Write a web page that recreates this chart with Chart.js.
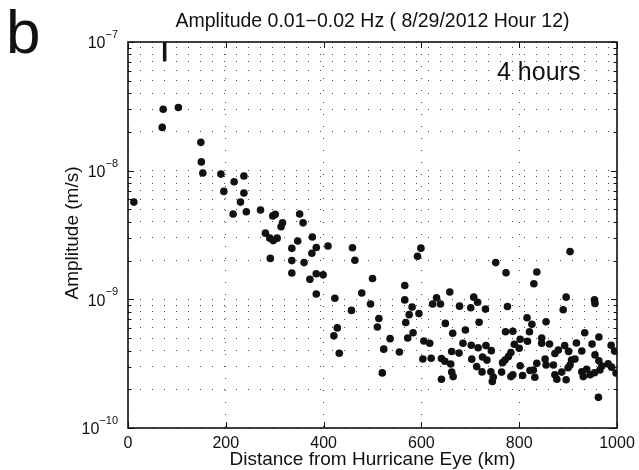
<!DOCTYPE html>
<html>
<head>
<meta charset="utf-8">
<script src="https://cdn.jsdelivr.net/npm/chart.js@4.4.0/dist/chart.umd.min.js"></script>
<style>
    html, body { margin: 0; padding: 0; background: #fff; }
    #wrap { width: 639px; height: 470px; }
</style>
</head>
<body>
<div id="wrap"><canvas id="amplitudeChart" width="639" height="470"></canvas></div>
<script>
// 허리케인 눈으로부터의 거리 (km)
const distanceKm = [
    12, 72, 103, 70, 149, 150, 153, 190, 196, 217,
    237, 237, 230, 215, 242, 271, 296, 301, 316, 313,
    351, 358, 281, 290, 297, 305, 347, 335, 377, 376,
    385, 291, 335, 360, 335, 409, 459, 464, 385, 399,
    372, 385, 423, 500, 478, 496, 457, 428, 421, 432,
    566, 599, 592, 566, 581, 575, 595, 568, 513, 510,
    583, 572, 536, 523, 555, 520, 605, 617, 603, 620,
    631, 623, 639, 658, 649, 664, 641, 648, 660, 662,
    677, 662, 665, 641, 678, 685, 690, 701, 707, 715,
    731, 718, 752, 773, 776, 702, 716, 732, 743, 703,
    725, 734, 713, 724, 742, 745, 747, 764, 772, 787,
    783, 778, 771, 766, 790, 800, 802, 783, 787, 836,
    830, 904, 896, 890, 954, 955, 855, 816, 826, 821,
    934, 963, 846, 817, 846, 862, 917, 949, 988, 995,
    893, 880, 873, 901, 928, 955, 963, 836, 829, 832,
    853, 855, 870, 802, 807, 822, 907, 914, 904, 900,
    873, 877, 887, 896, 928, 931, 938, 945, 965, 969,
    982, 989, 998, 962, 954
];

// 진폭 (m/s)
const amplitude = [
    5.7e-9, 3.0e-8, 3.1e-8, 2.17e-8, 1.66e-8, 1.17e-8, 9.6e-9, 9.4e-9, 6.9e-9, 8.2e-9,
    9.1e-9, 6.7e-9, 5.7e-9, 4.6e-9, 4.8e-9, 4.95e-9, 4.45e-9, 4.57e-9, 3.94e-9, 3.67e-9,
    4.61e-9, 3.93e-9, 3.27e-9, 2.99e-9, 2.86e-9, 2.99e-9, 2.84e-9, 2.49e-9, 3.05e-9, 2.28e-9,
    2.53e-9, 2.08e-9, 2.0e-9, 1.93e-9, 1.6e-9, 2.6e-9, 2.52e-9, 2.01e-9, 1.58e-9, 1.55e-9,
    1.43e-9, 1.1e-9, 1.02e-9, 1.45e-9, 1.12e-9, 9.2e-10, 8.2e-10, 6.0e-10, 5.2e-10, 3.81e-10,
    1.28e-9, 2.5e-9, 2.16e-9, 9.9e-10, 8.7e-10, 7.6e-10, 7.75e-10, 6.6e-10, 7.1e-10, 6.1e-10,
    5.5e-10, 5.0e-10, 4.95e-10, 4.1e-10, 3.9e-10, 2.68e-10, 4.75e-10, 4.56e-10, 3.44e-10, 3.48e-10,
    1.03e-9, 9.2e-10, 9.2e-10, 1.14e-9, 6.5e-10, 5.45e-10, 3.47e-10, 3.3e-10, 3.14e-10, 3.93e-10,
    3.82e-10, 2.72e-10, 2.51e-10, 2.39e-10, 8.85e-10, 4.56e-10, 5.78e-10, 8.6e-10, 1.04e-9, 9.5e-10,
    8.4e-10, 6.64e-10, 1.93e-9, 1.61e-9, 8.8e-10, 4.4e-10, 4.2e-10, 4.37e-10, 3.99e-10, 3.43e-10,
    3.56e-10, 3.37e-10, 3.0e-10, 2.73e-10, 2.74e-10, 2.3e-10, 2.49e-10, 2.72e-10, 5.6e-10, 5.65e-10,
    3.86e-10, 3.59e-10, 3.38e-10, 3.22e-10, 4.48e-10, 4.17e-10, 4.9e-10, 2.51e-10, 2.59e-10, 1.63e-9,
    1.32e-9, 2.35e-9, 1.04e-9, 8.3e-10, 9.9e-10, 9.3e-10, 6.7e-10, 7.2e-10, 6.4e-10, 5.6e-10,
    5.5e-10, 5.1e-10, 5.0e-10, 4.72e-10, 4.56e-10, 4.5e-10, 4.58e-10, 4.49e-10, 4.4e-10, 3.96e-10,
    4.37e-10, 4.04e-10, 3.79e-10, 3.94e-10, 3.97e-10, 3.7e-10, 3.33e-10, 3.18e-10, 2.82e-10, 2.48e-10,
    3.44e-10, 3.09e-10, 3.09e-10, 3.05e-10, 2.56e-10, 2.8e-10, 3.38e-10, 3.44e-10, 3.09e-10, 2.94e-10,
    2.59e-10, 2.39e-10, 2.72e-10, 2.37e-10, 2.74e-10, 2.51e-10, 2.86e-10, 2.59e-10, 2.82e-10, 3.03e-10,
    3.15e-10, 2.97e-10, 2.67e-10, 1.73e-10, 2.69e-10
];

// 상단 세로 표시 막대
const markerX = [75, 75];
const markerY = [1e-7, 7.1e-8];

// 축 눈금
const xTicks = [0, 200, 400, 600, 800, 1000];
const yDecades = [1e-10, 1e-9, 1e-8, 1e-7];
const yExponents = ['\u221210', '\u22129', '\u22128', '\u22127'];
const yMinorSteps = [1, 2, 3, 4, 5, 6, 7, 8, 9];

// 텍스트
const titleText = 'Amplitude 0.01\u22120.02 Hz ( 8/29/2012 Hour 12)';
const xLabel = 'Distance from Hurricane Eye (km)';
const yLabel = 'Amplitude (m/s)';
const panelLabel = 'b';
const noteText = '4 hours';

const FONT = '"Liberation Sans", Arial, Helvetica, sans-serif';
const INK = '#111';

/**
 * 로그 축 눈금 (10^n 의 1~9 배)
 */
function buildLogTicks() {
    const ticks = [];
    yDecades.forEach((d, i) => {
        if (i === yDecades.length - 1) {
            ticks.push({value: d, major: true});
            return;
        }
        yMinorSteps.forEach(s => ticks.push({value: d * s, major: s === 1}));
    });
    return ticks;
}

/**
 * 테두리, 안쪽 눈금, 텍스트 그리기
 */
const axisDecor = {
    id: 'axisDecor',
    afterDraw(chart) {
        const {ctx, chartArea: a, scales: {x, y}} = chart;
        const line = (x1, y1, x2, y2) => {
            ctx.beginPath();
            ctx.moveTo(x1, y1);
            ctx.lineTo(x2, y2);
            ctx.stroke();
        };

        ctx.save();
        ctx.strokeStyle = INK;
        ctx.fillStyle = INK;

        // 안쪽 눈금
        ctx.lineWidth = 1;
        x.ticks.forEach(t => {
            const px = Math.round(x.getPixelForValue(t.value)) + 0.5;
            line(px, a.bottom, px, a.bottom - 6);
            line(px, a.top, px, a.top + 6);
        });
        y.ticks.forEach(t => {
            const py = Math.round(y.getPixelForValue(t.value)) + 0.5;
            const len = t.major ? 6 : 3.5;
            line(a.left, py, a.left + len, py);
            line(a.right, py, a.right - len, py);
        });

        // 테두리
        ctx.lineWidth = 1.6;
        ctx.strokeRect(a.left, a.top, a.right - a.left, a.bottom - a.top);

        // x 눈금 라벨
        ctx.font = '16px ' + FONT;
        ctx.textAlign = 'center';
        ctx.textBaseline = 'alphabetic';
        xTicks.forEach(v => ctx.fillText(String(v), x.getPixelForValue(v), a.bottom + 20));

        // y 눈금 라벨 (10^n)
        yDecades.forEach((v, i) => {
            const py = y.getPixelForValue(v);
            ctx.font = '11px ' + FONT;
            const expWidth = ctx.measureText(yExponents[i]).width;
            ctx.textAlign = 'right';
            ctx.fillText(yExponents[i], a.left - 10, py - 4);
            ctx.font = '16px ' + FONT;
            ctx.textBaseline = 'middle';
            ctx.fillText('10', a.left - 10 - expWidth, py + 2);
            ctx.textBaseline = 'alphabetic';
        });

        // 제목, 축 제목
        const cx = (a.left + a.right) / 2;
        ctx.textAlign = 'center';
        ctx.font = '19.5px ' + FONT;
        ctx.fillText(titleText, cx, 27);
        ctx.font = '19px ' + FONT;
        ctx.fillText(xLabel, cx, 465);

        ctx.save();
        ctx.translate(73, 233);
        ctx.rotate(-Math.PI / 2);
        ctx.textBaseline = 'middle';
        ctx.fillText(yLabel, 0, 0);
        ctx.restore();

        // 패널 라벨, 주석
        ctx.textAlign = 'left';
        ctx.font = '62px ' + FONT;
        ctx.fillText(panelLabel, 6, 53);
        ctx.font = '25px ' + FONT;
        ctx.fillText(noteText, 497, 80);

        ctx.restore();
    }
};

const canvas = document.getElementById('amplitudeChart');
const ctx = canvas.getContext('2d');

const gridStyle = {color: 'rgba(0,0,0,0.7)', lineWidth: 1, drawTicks: false};
const dotted = {display: false, dash: [1, 11]};

new Chart(ctx, {
    type: 'scatter',
    data: {
        datasets: [
            {
                data: distanceKm.map((d, i) => ({x: d, y: amplitude[i]})),
                pointRadius: 3.8,
                pointHoverRadius: 3.8,
                backgroundColor: INK,
                borderWidth: 0
            },
            {
                type: 'line',
                data: markerX.map((d, i) => ({x: d, y: markerY[i]})),
                borderColor: INK,
                borderWidth: 3.5,
                pointRadius: 0,
                showLine: true
            }
        ]
    },
    options: {
        responsive: false,
        animation: false,
        events: [],
        layout: {padding: {left: 128, top: 42, right: 22, bottom: 42}},
        plugins: {
            legend: {display: false},
            tooltip: {enabled: false},
            title: {display: false}
        },
        scales: {
            x: {
                type: 'linear',
                min: 0,
                max: 1000,
                afterBuildTicks: scale => { scale.ticks = xTicks.map(v => ({value: v})); },
                ticks: {display: false},
                grid: gridStyle,
                border: dotted
            },
            y: {
                type: 'logarithmic',
                min: 1e-10,
                max: 1e-7,
                afterBuildTicks: scale => { scale.ticks = buildLogTicks(); },
                ticks: {display: false},
                grid: gridStyle,
                border: dotted
            }
        }
    },
    plugins: [axisDecor]
});
</script>
</body>
</html>
